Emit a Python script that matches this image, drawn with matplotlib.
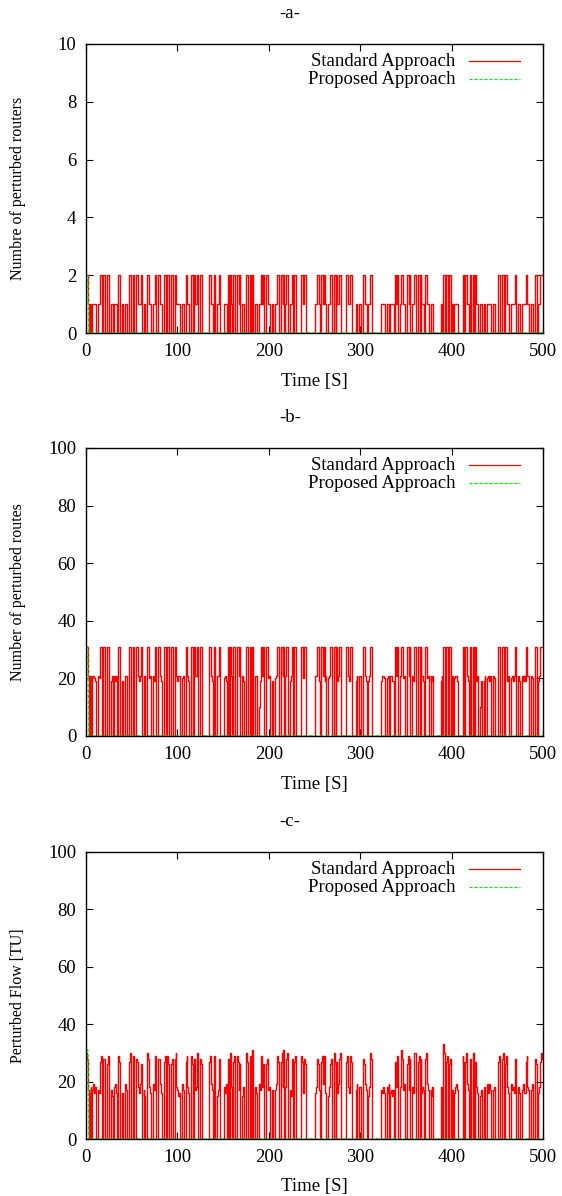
import numpy as np
import matplotlib
matplotlib.use("Agg")
import matplotlib.pyplot as plt

plt.rcParams["font.family"] = ["Liberation Serif", "DejaVu Serif"]

# Sampling step of the simulation traces, in seconds
SAMPLE_STEP = 1

# Standard approach: number of perturbed routers (one row = 20 s)
routers_std = [
    2, 2, 1, 0, 1, 1, 0, 1, 1, 1, 1, 0, 0, 1, 1, 2, 2, 0, 0, 2,
    2, 0, 0, 2, 2, 0, 0, 1, 1, 0, 0, 1, 1, 1, 0, 2, 2, 0, 0, 1,
    1, 0, 0, 1, 1, 0, 0, 2, 2, 0, 0, 2, 2, 0, 0, 2, 2, 1, 1, 1,
    2, 0, 0, 1, 1, 0, 0, 2, 2, 1, 1, 0, 0, 1, 1, 2, 2, 0, 0, 2,
    2, 1, 1, 0, 0, 2, 2, 0, 0, 2, 2, 0, 0, 2, 2, 0, 0, 2, 2, 1,
    1, 1, 1, 0, 0, 1, 1, 0, 0, 2, 2, 1, 1, 0, 0, 2, 2, 0, 2, 1,
    1, 2, 2, 0, 0, 2, 2, 0, 0, 0, 0, 0, 0, 0, 0, 2, 2, 1, 1, 0,
    2, 0, 0, 1, 1, 2, 2, 0, 0, 0, 0, 1, 1, 1, 0, 2, 2, 0, 2, 1,
    0, 2, 2, 0, 0, 2, 2, 1, 2, 0, 0, 1, 1, 0, 0, 2, 2, 0, 0, 2,
    2, 0, 2, 0, 0, 1, 1, 0, 0, 1, 1, 2, 2, 1, 2, 0, 0, 2, 2, 1,
    1, 0, 0, 1, 1, 0, 0, 1, 1, 2, 2, 0, 0, 2, 2, 1, 2, 0, 1, 2,
    2, 0, 0, 1, 1, 2, 2, 0, 2, 2, 0, 0, 0, 0, 0, 2, 2, 1, 1, 2,
    2, 0, 0, 0, 0, 0, 0, 0, 0, 0, 0, 1, 1, 2, 2, 1, 0, 2, 2, 1,
    2, 1, 1, 0, 0, 1, 1, 2, 2, 0, 0, 2, 2, 0, 2, 1, 1, 2, 2, 0,
    0, 0, 0, 0, 0, 2, 2, 1, 1, 2, 2, 0, 0, 0, 0, 1, 1, 0, 0, 1,
    1, 0, 0, 2, 2, 1, 1, 0, 0, 1, 1, 2, 2, 0, 0, 0, 0, 0, 0, 0,
    0, 0, 0, 1, 1, 1, 1, 0, 0, 1, 1, 1, 0, 1, 1, 1, 1, 0, 2, 1,
    2, 0, 0, 1, 1, 2, 2, 1, 1, 0, 0, 2, 2, 1, 2, 0, 0, 1, 1, 2,
    2, 0, 0, 2, 2, 0, 2, 1, 1, 1, 0, 2, 2, 1, 1, 0, 0, 1, 1, 1,
    0, 0, 0, 0, 0, 0, 0, 0, 1, 1, 0, 2, 2, 0, 2, 2, 0, 2, 2, 0,
    1, 0, 0, 1, 1, 1, 1, 0, 0, 0, 0, 0, 2, 2, 0, 2, 2, 1, 1, 0,
    2, 0, 0, 2, 2, 0, 2, 1, 1, 0, 0, 1, 1, 0, 0, 1, 1, 0, 0, 1,
    1, 1, 1, 0, 0, 1, 1, 0, 0, 0, 0, 2, 2, 0, 0, 2, 2, 0, 2, 2,
    2, 1, 1, 0, 0, 1, 1, 1, 1, 2, 2, 0, 0, 1, 1, 0, 0, 1, 1, 1,
    1, 2, 2, 1, 1, 0, 0, 1, 1, 0, 0, 2, 2, 0, 0, 1, 1, 2, 2, 2,
]

# Standard approach: number of perturbed routes
routes_std = [
    31, 31, 21, 0, 21, 19, 0, 21, 21, 20, 19, 0, 0, 21, 20, 31, 31, 0, 0, 31,
    31, 0, 0, 31, 31, 0, 0, 19, 21, 0, 0, 21, 19, 21, 0, 31, 31, 0, 0, 19,
    19, 0, 0, 21, 21, 0, 0, 31, 31, 0, 0, 31, 31, 0, 0, 31, 31, 21, 19, 21,
    31, 0, 0, 19, 21, 0, 0, 31, 31, 20, 21, 0, 0, 21, 19, 31, 31, 0, 0, 31,
    31, 21, 19, 0, 0, 31, 31, 0, 0, 31, 31, 0, 0, 31, 31, 0, 0, 31, 31, 21,
    19, 21, 21, 0, 0, 20, 21, 0, 0, 31, 31, 21, 19, 0, 0, 31, 31, 0, 31, 21,
    21, 31, 31, 0, 0, 31, 31, 0, 0, 0, 0, 0, 0, 0, 0, 31, 31, 21, 19, 0,
    31, 0, 0, 21, 21, 31, 31, 0, 0, 0, 0, 20, 21, 19, 0, 31, 31, 0, 31, 21,
    0, 31, 31, 0, 0, 31, 31, 21, 31, 0, 0, 21, 19, 0, 0, 31, 31, 0, 0, 31,
    31, 0, 31, 0, 0, 21, 21, 0, 0, 10, 19, 31, 31, 21, 31, 0, 0, 31, 31, 20,
    21, 0, 0, 19, 19, 0, 0, 20, 21, 31, 31, 0, 0, 31, 31, 21, 31, 0, 21, 31,
    31, 0, 0, 19, 21, 31, 31, 0, 31, 31, 0, 0, 0, 0, 0, 31, 31, 20, 21, 31,
    31, 0, 0, 0, 0, 0, 0, 0, 0, 0, 0, 21, 21, 31, 31, 19, 0, 31, 31, 21,
    31, 19, 21, 0, 0, 20, 21, 31, 31, 0, 0, 31, 31, 0, 31, 19, 21, 31, 31, 0,
    0, 0, 0, 0, 0, 31, 31, 21, 19, 31, 31, 0, 0, 0, 0, 19, 21, 0, 0, 21,
    21, 0, 0, 31, 31, 21, 19, 0, 0, 19, 21, 31, 31, 0, 0, 0, 0, 0, 0, 0,
    0, 0, 0, 19, 21, 21, 20, 0, 0, 20, 21, 19, 0, 21, 21, 19, 19, 0, 31, 21,
    31, 0, 0, 19, 21, 31, 31, 20, 21, 0, 0, 31, 31, 21, 31, 0, 0, 21, 19, 31,
    31, 0, 0, 31, 31, 0, 31, 21, 21, 19, 0, 31, 31, 20, 21, 0, 0, 21, 19, 21,
    0, 0, 0, 0, 0, 0, 0, 0, 19, 21, 0, 31, 31, 0, 31, 31, 0, 31, 31, 0,
    21, 0, 0, 20, 21, 21, 19, 0, 0, 0, 0, 0, 31, 31, 0, 31, 31, 21, 19, 0,
    31, 0, 0, 31, 31, 0, 31, 19, 21, 0, 0, 10, 19, 0, 0, 19, 21, 0, 0, 20,
    21, 19, 21, 0, 0, 21, 20, 0, 0, 0, 0, 31, 31, 0, 0, 31, 31, 0, 31, 31,
    31, 19, 21, 0, 0, 20, 21, 19, 21, 31, 31, 0, 0, 21, 19, 0, 0, 21, 19, 21,
    19, 31, 31, 21, 21, 0, 0, 21, 20, 0, 0, 31, 31, 0, 0, 19, 21, 31, 31, 31,
]

# Standard approach: perturbed flow (traffic units)
flow_std = [
    30, 28, 17, 0, 16, 18, 0, 17, 19, 16, 18, 0, 0, 17, 16, 27, 29, 0, 0, 28,
    28, 0, 0, 26, 29, 0, 0, 17, 15, 0, 0, 18, 19, 16, 0, 29, 27, 0, 0, 16,
    16, 0, 0, 19, 17, 0, 0, 27, 30, 0, 0, 29, 26, 0, 0, 28, 27, 18, 16, 19,
    26, 0, 0, 17, 15, 0, 0, 30, 28, 18, 16, 0, 0, 19, 17, 27, 29, 0, 0, 28,
    28, 19, 16, 0, 0, 27, 29, 0, 0, 29, 26, 0, 0, 26, 28, 0, 0, 28, 30, 18,
    17, 15, 16, 0, 0, 19, 17, 0, 0, 27, 29, 18, 16, 0, 0, 29, 26, 0, 28, 17,
    18, 30, 27, 0, 0, 28, 26, 0, 0, 0, 0, 0, 0, 0, 0, 27, 29, 19, 17, 0,
    29, 0, 0, 15, 17, 26, 28, 0, 0, 0, 0, 18, 16, 19, 0, 28, 26, 0, 30, 18,
    0, 27, 29, 0, 0, 29, 27, 17, 26, 0, 0, 15, 18, 0, 0, 30, 27, 0, 0, 29,
    28, 0, 31, 0, 0, 18, 16, 0, 0, 19, 17, 27, 29, 18, 26, 0, 0, 26, 28, 17,
    18, 0, 0, 16, 17, 0, 0, 17, 19, 29, 27, 0, 0, 27, 30, 18, 31, 0, 18, 28,
    30, 0, 0, 17, 15, 28, 26, 0, 27, 29, 0, 0, 0, 0, 0, 29, 27, 16, 18, 28,
    26, 0, 0, 0, 0, 0, 0, 0, 0, 0, 0, 16, 18, 28, 26, 17, 0, 27, 29, 19,
    29, 17, 16, 0, 0, 15, 18, 26, 28, 0, 0, 30, 27, 0, 27, 16, 19, 28, 30, 0,
    0, 0, 0, 0, 0, 27, 29, 18, 16, 29, 27, 0, 0, 0, 0, 17, 19, 0, 0, 18,
    18, 0, 0, 28, 26, 19, 17, 0, 0, 15, 18, 30, 28, 0, 0, 0, 0, 0, 0, 0,
    0, 0, 0, 17, 16, 18, 16, 0, 0, 18, 16, 19, 0, 16, 17, 15, 17, 0, 27, 18,
    29, 0, 0, 16, 18, 31, 28, 17, 19, 0, 0, 26, 29, 17, 28, 0, 0, 18, 16, 30,
    30, 0, 0, 27, 29, 0, 28, 16, 18, 17, 0, 28, 30, 19, 17, 0, 0, 17, 15, 18,
    0, 0, 0, 0, 0, 0, 0, 0, 18, 16, 0, 33, 30, 0, 27, 29, 0, 26, 28, 0,
    17, 0, 0, 16, 18, 19, 17, 0, 0, 0, 0, 0, 29, 27, 0, 27, 30, 19, 17, 0,
    28, 0, 0, 30, 26, 0, 27, 18, 16, 0, 0, 15, 17, 0, 0, 18, 16, 0, 0, 19,
    16, 19, 17, 0, 0, 17, 18, 0, 0, 0, 0, 27, 29, 0, 0, 28, 30, 0, 26, 28,
    29, 18, 16, 0, 0, 19, 17, 18, 16, 28, 26, 0, 0, 18, 16, 0, 0, 17, 19, 16,
    16, 27, 29, 18, 17, 0, 0, 17, 19, 0, 0, 28, 26, 0, 0, 16, 18, 27, 30, 28,
]

# Proposed approach: a single short burst right at start-up
prop_time = [0, 2, 3, 500]
routers_prop = [2, 2, 0, 0]
routes_prop = [31, 31, 0, 0]
flow_prop = [31, 31, 0, 0]

panel_titles = ["-a-", "-b-", "-c-"]
y_labels = ["Numbre of perturbed routers", "Number of perturbed routes", "Perturbed Flow [TU]"]
y_limits = [10, 100, 100]
y_steps = [2, 20, 20]
x_ticks = [0, 100, 200, 300, 400, 500]

W, H = 562, 1196
fig = plt.figure(figsize=(W / 100, H / 100), dpi=100)

# Pixel geometry of the three panels: (top, bottom)
panel_px = [(44, 333), (448, 736), (852, 1139)]
left_px, right_px = 86, 543
title_px = [13, 418, 822]

FS = 13.5
FS_Y = 11.5
GREEN = "#00ee00"
RED = "#ff0000"
DASH = (2.5, 1.5)

std_series = [routers_std, routes_std, flow_std]
prop_series = [routers_prop, routes_prop, flow_prop]

for k in range(3):
    top, bot = panel_px[k]
    ax = fig.add_axes([left_px / W, 1 - bot / H, (right_px - left_px) / W, (bot - top) / H])
    std = np.asarray(std_series[k], dtype=float)
    t = np.arange(len(std)) * SAMPLE_STEP
    ax.plot(t, std, color=RED, lw=1.0, drawstyle="steps-post", zorder=2)
    ax.plot(prop_time, prop_series[k], color=GREEN, lw=1.0, dashes=DASH, zorder=3)

    ax.set_xlim(0, 500)
    ax.set_ylim(0, y_limits[k])
    ax.set_xticks(x_ticks)
    ax.set_yticks(np.arange(0, y_limits[k] + 1, y_steps[k]))
    ax.tick_params(direction="in", top=True, right=True, length=5, width=0.8,
                   labelsize=FS, pad=7)
    for sp in ax.spines.values():
        sp.set_linewidth(1.0)
        sp.set_zorder(4)

    # legend: right-justified text followed by a line sample
    rows = [("Standard Approach", RED, None), ("Proposed Approach", GREEN, DASH)]
    for r, (label, col, dash) in enumerate(rows):
        y_px = top + 17 + 18 * r
        y_ax = (bot - y_px) / (bot - top)
        ax.text((455 - left_px) / (right_px - left_px), y_ax, label,
                transform=ax.transAxes, ha="right", va="center", fontsize=FS)
        ln, = ax.plot([(469 - left_px) / (right_px - left_px), (520 - left_px) / (right_px - left_px)],
                      [y_ax, y_ax], transform=ax.transAxes, color=col, lw=0.9)
        if dash:
            ln.set_dashes(dash)

    fig.text(290 / W, 1 - title_px[k] / H, panel_titles[k], ha="center", va="center", fontsize=FS)
    fig.text((left_px + right_px) / 2 / W, 1 - (bot + 48) / H, "Time [S]",
             ha="center", va="center", fontsize=FS)
    fig.text(18 / W, 1 - (top + bot) / 2 / H, y_labels[k], rotation=90,
             ha="center", va="center", fontsize=FS_Y)

fig.savefig("out.png", dpi=100)
